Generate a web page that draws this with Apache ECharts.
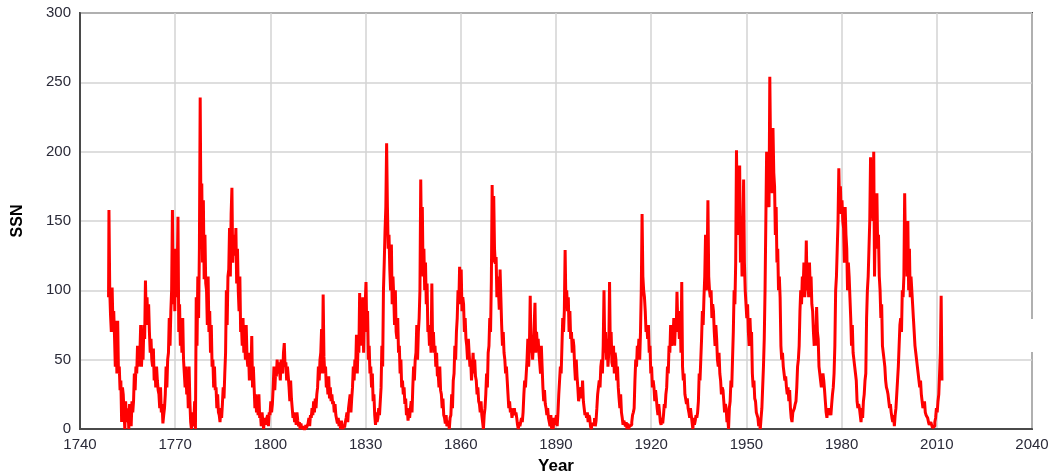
<!DOCTYPE html>
<html>
<head>
<meta charset="utf-8">
<script src="https://cdn.jsdelivr.net/npm/echarts@6/dist/echarts.min.js"></script>
<style>
html,body{margin:0;padding:0;background:#fff;}
#chart{width:1050px;height:474px;}
</style>
</head>
<body>
<div id="chart"></div>
<script>
// Sunspot number: four values per year (quarterly), starting 1749.0
const startYear = 1749;
const perYear = 4;
const xTicks = { min: 1740, max: 2040, interval: 30 };
const yTicks = { min: 0, max: 300, interval: 50 };

const ssn1749 = [
  95,158,100,82, 70,102,76,85, 67,45,78,40, 78,40,45,28, 35,5,30,25,
  12,0,20,8, 5,15,0,18, 10,2,20,12, 20,40,28,45, 40,60,45,52,
  55,75,45,60, 50,75,65,107, 80,95,75,90, 70,55,65,50, 45,58,35,45,
  30,45,35,28, 25,15,30,12, 18,4,10,15, 25,45,30,50, 55,80,60,85,
  100,158,90,120, 85,130,95,110, 153,70,90,60, 75,55,80,50, 40,30,45,25,
  35,15,45,20, 5,0,12,2, 5,20,0,95, 60,110,80,130, 239,150,177,120,
  165,108,140,105, 100,75,110,70, 85,55,75,45, 50,30,45,28, 30,15,25,12,
  10,5,15,8, 18,30,22,40, 55,100,75,110, 115,145,110,155, 174,120,140,130,
  125,145,105,130, 100,85,110,70, 75,60,80,55, 65,50,75,52, 45,55,35,50,
  40,67,30,45, 30,15,25,12, 20,10,25,8, 10,2,12,5, 0,8,3,6,
  5,10,2,12
];
const ssn1800 = [
  10,20,12,18, 30,45,28,40, 38,50,40,48, 42,35,50,45, 40,55,62,45,
  48,35,45,38, 30,20,35,22, 15,8,12,5, 10,3,12,6, 2,5,0,4,
  0,2,0,1, 0,3,1,2, 4,8,2,10, 8,15,10,20, 12,22,15,25,
  30,45,35,50, 55,72,40,97, 52,40,45,30, 35,25,38,22, 30,20,25,18,
  20,12,18,10, 10,4,8,2, 5,0,6,2, 0,3,1,5, 8,12,5,15,
  15,25,12,22, 30,45,35,50, 45,68,40,60, 55,98,60,80, 70,95,55,85,
  90,106,70,85, 50,60,40,45, 30,40,20,25, 10,3,12,5, 8,15,10,20,
  30,60,45,100, 120,143,160,206, 160,130,140,115, 100,133,90,110, 95,75,100,70,
  65,80,55,60, 40,50,30,35, 25,30,18,22, 10,15,6,12, 8,15,20,12,
  30,45,35,50, 55,75,50,70, 80,100,180,130, 160,110,130,100, 120,90,105,70
];
const ssn1850 = [
  75,60,70,55, 105,60,70,55, 60,45,55,38, 40,30,45,28, 25,15,22,10,
  8,4,10,2, 3,6,0,8, 10,25,15,35, 40,60,50,70, 80,100,90,117,
  100,115,85,95, 90,70,80,65, 60,50,65,55, 45,50,35,45, 55,40,50,38,
  35,25,30,20, 18,12,20,10, 5,0,10,15, 25,40,30,55, 60,80,70,106,
  176,120,168,130, 119,124,95,110, 100,86,115,95, 75,60,70,55, 50,40,45,35,
  25,15,20,12, 15,8,12,10, 15,10,12,8, 3,0,5,2, 2,8,5,12,
  25,35,30,40, 50,65,45,60, 96,55,65,50, 60,75,91,55, 70,60,65,55,
  55,40,60,45, 30,20,28,18, 15,10,15,8, 5,2,10,0, 5,0,8,3,
  4,10,2,12, 25,35,45,40, 60,80,70,85, 129,90,100,85, 95,70,85,65,
  70,55,65,60, 45,35,50,38, 30,20,25,28, 30,22,35,20, 15,10,12,8
];
const ssn1900 = [
  12,5,10,8, 2,0,4,3, 3,8,2,6, 15,25,30,35, 30,45,50,40,
  60,100,55,70, 50,65,45,55, 106,55,70,48, 45,60,40,55, 50,35,45,30,
  22,15,25,12, 8,3,6,4, 2,5,0,4, 0,2,1,3, 5,10,12,15,
  35,50,45,60, 55,65,50,70, 100,155,110,100, 95,85,70,75, 65,75,55,60,
  40,45,30,35, 30,20,28,22, 15,10,18,12, 5,3,8,4, 10,18,15,25,
  30,45,40,60, 55,75,60,70, 65,80,60,75, 70,99,75,80, 65,85,55,106,
  45,35,40,25, 25,18,22,15, 12,8,15,10, 5,0,8,3, 6,10,8,12,
  20,40,35,50, 65,85,75,95, 110,140,100,120, 165,110,100,95, 100,80,90,85,
  70,60,75,65, 50,45,55,40, 35,25,30,28, 20,12,18,15, 5,8,0,15,
  20,35,30,50, 70,100,90,120, 201,150,170,140, 190,120,150,110, 140,180,120,100
];
const ssn1950 = [
  100,80,90,70, 60,80,65,70, 40,30,35,22, 20,12,10,8, 2,5,0,8,
  15,30,45,65, 100,150,200,170, 180,160,254,200, 190,170,217,185, 175,140,160,120,
  130,100,110,95, 60,50,55,45, 40,35,38,30, 25,30,20,28, 15,8,5,12,
  12,15,18,20, 30,45,50,60, 85,100,90,110, 100,120,95,105, 136,100,110,95,
  120,100,110,90, 85,70,60,75, 60,88,70,65, 45,40,35,30, 30,40,35,28,
  20,12,8,15, 10,15,12,10, 18,25,30,40, 60,100,110,130, 150,188,160,175,
  155,165,150,145, 120,160,140,130, 100,120,110,95, 80,60,75,55, 50,45,40,35,
  20,15,18,15, 10,5,15,8, 20,25,35,40, 80,100,110,130, 150,196,160,170,
  150,200,110,150, 145,170,130,140, 110,100,80,90, 60,55,50,45, 35,30,28,25,
  20,15,18,12, 8,5,10,2, 10,15,25,35, 45,60,75,80, 70,100,95,110,
  170,130,150,110, 150,100,130,95, 110,100,90,80, 70,60,55,50, 45,40,35,30,
  35,25,20,15, 15,20,12,10, 10,8,5,3, 2,5,3,1, 0,2,5,8,
  15,12,20,25, 40,55,96,35
];

const ssn = [].concat(ssn1749, ssn1800, ssn1850, ssn1900, ssn1950);
const points = ssn.map((v, i) => [startYear + i / perYear, v]);

const font = 'Liberation Sans, Arial, Helvetica, sans-serif';
const chart = echarts.init(document.getElementById('chart'), null, { renderer: 'canvas' });
chart.setOption({
  animation: false,
  backgroundColor: '#ffffff',
  grid: {
    left: 80, right: 18, top: 13, bottom: 45,
    containLabel: false, outerBoundsMode: 'none',
    show: true, borderColor: '#4a4a4a', borderWidth: 2, backgroundColor: 'transparent'
  },
  xAxis: {
    type: 'value',
    min: xTicks.min, max: xTicks.max, interval: xTicks.interval,
    name: 'Year', nameLocation: 'middle', nameGap: 29,
    nameTextStyle: { fontFamily: font, fontWeight: 'bold', fontSize: 17, color: '#000' },
    axisLine: { show: true, lineStyle: { color: '#4a4a4a', width: 2 } },
    axisTick: { show: false },
    axisLabel: { fontFamily: font, fontSize: 15, color: '#2a2a38', margin: 8, formatter: v => String(v) },
    splitLine: { show: true, lineStyle: { color: '#d3d3d3', width: 1.5 } }
  },
  yAxis: {
    type: 'value',
    min: yTicks.min, max: yTicks.max, interval: yTicks.interval,
    name: 'SSN', nameLocation: 'middle', nameGap: 54, nameRotate: 90,
    nameTextStyle: { fontFamily: font, fontWeight: 'bold', fontSize: 16, color: '#000' },
    axisLine: { show: true, lineStyle: { color: '#4a4a4a', width: 2 } },
    axisTick: { show: false },
    axisLabel: { fontFamily: font, fontSize: 15, color: '#2a2a38', margin: 9 },
    splitLine: { show: true, lineStyle: { color: '#d3d3d3', width: 1.5 } }
  },
  series: [{
    type: 'line',
    data: points,
    step: 'middle',
    showSymbol: false,
    sampling: null,
    lineStyle: { color: '#ff0000', width: 3 },
    z: 3
  }],
  graphic: [{
    type: 'rect', z: 100,
    shape: { x: 1029, y: 319, width: 6, height: 33 },
    style: { fill: '#ffffff' }
  }]
});
</script>
</body>
</html>
